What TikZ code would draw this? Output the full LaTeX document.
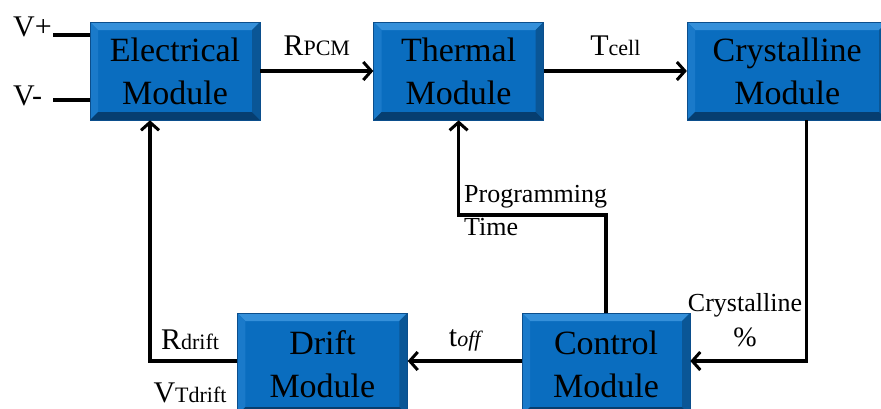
\documentclass[tikz,border=0pt]{standalone}
\usepackage{fontspec}
\setmainfont{Liberation Serif}
\usepackage{tikz}
\usetikzlibrary{arrows.meta,positioning}
\definecolor{modBlue}{HTML}{0A6DBF}
\definecolor{modTop}{HTML}{3590DA}
\definecolor{modLeft}{HTML}{1A7ACA}
\definecolor{modRight}{HTML}{0A5696}
\definecolor{modBottom}{HTML}{063E70}
\definecolor{modEdge}{HTML}{0B4E8C}
\tikzset{
  module/.style={draw=modEdge, line width=0.6pt, fill=modBlue, minimum width=170pt, minimum height=98pt,
    align=center, inner sep=0pt, font=\fontsize{34}{43}\selectfont,
    path picture={
      \fill[modTop] (path picture bounding box.north west) -- (path picture bounding box.north east)
        -- ([xshift=-8pt,yshift=-8pt]path picture bounding box.north east)
        -- ([xshift=8pt,yshift=-8pt]path picture bounding box.north west) -- cycle;
      \fill[modLeft] (path picture bounding box.north west) -- (path picture bounding box.south west)
        -- ([xshift=8pt,yshift=8pt]path picture bounding box.south west)
        -- ([xshift=8pt,yshift=-8pt]path picture bounding box.north west) -- cycle;
      \fill[modRight] (path picture bounding box.north east) -- (path picture bounding box.south east)
        -- ([xshift=-8pt,yshift=8pt]path picture bounding box.south east)
        -- ([xshift=-8pt,yshift=-8pt]path picture bounding box.north east) -- cycle;
      \fill[modBottom] (path picture bounding box.south west) -- (path picture bounding box.south east)
        -- ([xshift=-8pt,yshift=8pt]path picture bounding box.south east)
        -- ([xshift=8pt,yshift=8pt]path picture bounding box.south west) -- cycle;
    }},
  wire/.style={line width=3.4pt},
  arr/.style={wire, -{Straight Barb[length=8pt,width=18pt,line width=3pt]}},
  lbl/.style={inner sep=0pt, font=\fontsize{30}{32}\selectfont},
  small/.style={inner sep=0pt, font=\fontsize{26}{33}\selectfont, align=left}
}
\newcommand{\sub}[1]{{\fontsize{22}{24}\selectfont #1}}

\begin{document}
\begin{tikzpicture}[x=1pt, y=-1pt]
\useasboundingbox (0,0) rectangle (881,408);

% modules
\node[module] (elec) at (175,71) {Electrical\\Module};
\node[module, right=113pt of elec] (therm) {Thermal\\Module};
\node[module, right=143pt of therm, minimum width=200pt] (cryst) {Crystalline\\Module};
\node[module, minimum width=168pt, minimum height=102pt] (ctrl) at (606,364) {Control\\Module};
\node[module, left=114pt of ctrl, minimum height=102pt] (drift) {Drift\\Module};

% supply pins
\node[lbl, anchor=west] (vplus) at (13,27) {V+};
\node[lbl, anchor=west] (vminus) at (13,96) {V-};
\coordinate (vpin) at (53,35);
\coordinate (vmin) at (53,100);
\draw[wire] (vpin) -- (vpin -| elec.west);
\draw[wire] (vmin) -- (vmin -| elec.west);

% forward chain
\draw[arr] (elec) -- (therm) node[lbl, midway, above=14pt] (rpcm) {R\sub{PCM}};
\draw[arr] (therm) -- (cryst) node[lbl, midway, above=14pt] (tcell) {T\sub{cell}};

% feedback loops
\coordinate (crydown) at ([xshift=19pt]cryst.south);
\draw[arr] (crydown) -- (crydown |- 0,361) -- (ctrl.east |- 0,361);
\node[small, align=center] (crypct) at (745,320) {Crystalline\\[2pt]{\fontsize{28}{30}\selectfont\%}};

\coordinate (progturn) at (606,215);
\draw[arr] (ctrl.north) -- (progturn) -| (therm.south);
\node[small, anchor=north west] (progtime) at (464,185) {Programming\\Time};

\draw[arr] (ctrl.west |- 0,361) -- (drift.east |- 0,361) node[lbl, midway, above=8pt] (toff) {t\sub{\itshape off}};

\draw[arr] (drift.west |- 0,361) -| ([xshift=-25pt]elec.south);
\node[lbl] (rdrift) at (190,340) {R\sub{drift}};
\node[lbl] (vtdrift) at (190,393) {V\sub{Tdrift}};
\end{tikzpicture}
\end{document}
